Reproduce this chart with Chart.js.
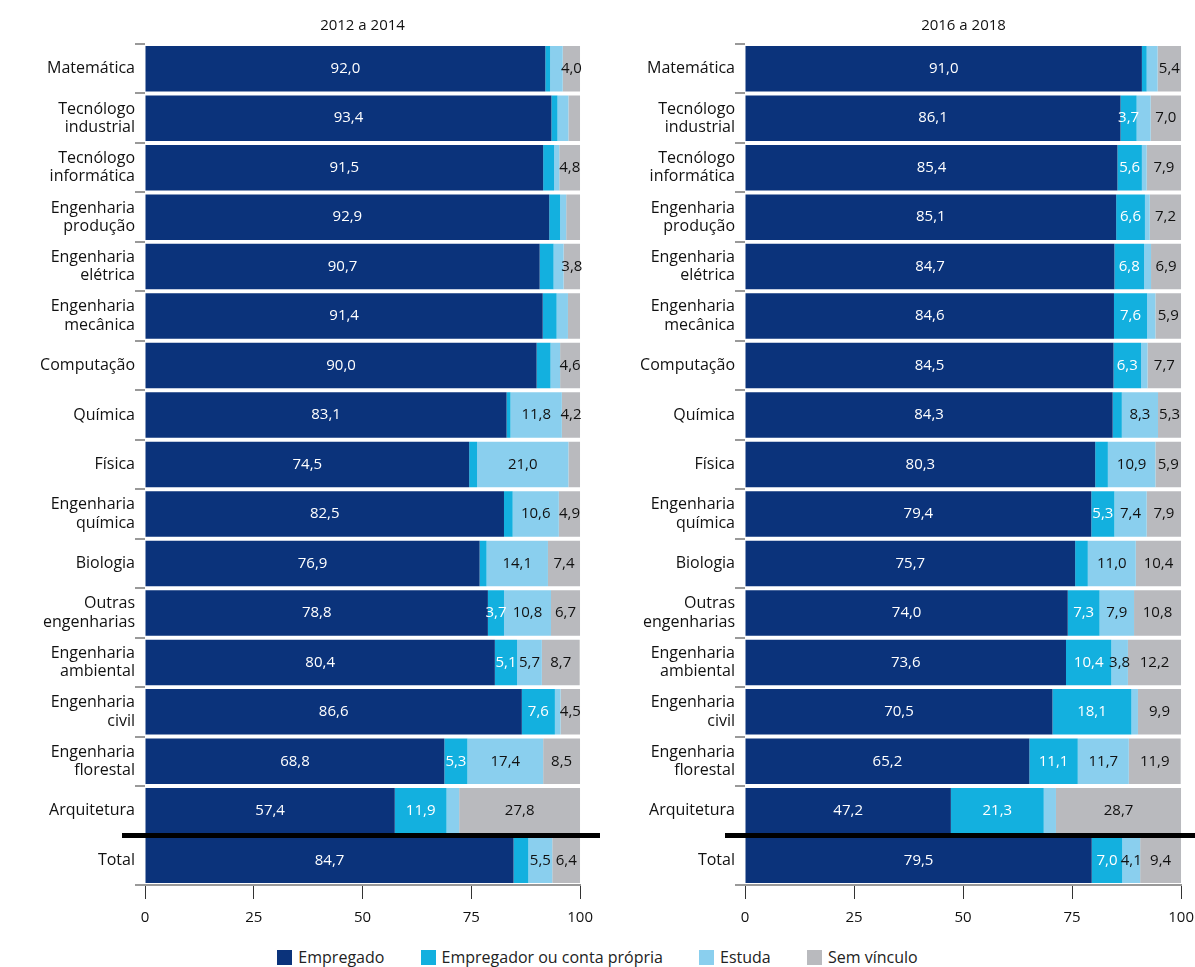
<!DOCTYPE html>
<html><head><meta charset="utf-8">
<script src="https://cdn.jsdelivr.net/npm/chart.js@4"></script>
<style>
body{margin:0;background:#fff;font-family:"Open Sans",sans-serif;overflow:hidden;}
.t{position:absolute;top:14px;font-size:15px;font-weight:500;color:#111;text-align:center;width:435px;}
#leg{position:absolute;left:0;top:946px;width:1195px;text-align:center;font-size:16px;color:#222;font-family:"Open Sans",sans-serif;}
#leg span{display:inline-block;margin:0 16px;}
#leg i{display:inline-block;width:15px;height:15px;vertical-align:-2px;margin-right:6px;}
</style></head><body>
<div id="w1" style="position:absolute;left:0;top:0;width:603px;height:937px"><canvas id="c1"></canvas></div>
<div id="w2" style="position:absolute;left:600px;top:0;width:604px;height:937px"><canvas id="c2"></canvas></div>
<div class="t" style="left:145px">2012 a 2014</div>
<div class="t" style="left:746px">2016 a 2018</div>
<div id="leg">
<span><i style="background:#0b337b"></i>Empregado</span>
<span><i style="background:#13b0df"></i>Empregador ou conta própria</span>
<span><i style="background:#8acfee"></i>Estuda</span>
<span><i style="background:#b9babe"></i>Sem vínculo</span>
</div>
<script>
const categories = [["Matemática"],["Tecnólogo","industrial"],["Tecnólogo","informática"],["Engenharia","produção"],["Engenharia","elétrica"],["Engenharia","mecânica"],["Computação"],["Química"],["Física"],["Engenharia","química"],["Biologia"],["Outras","engenharias"],["Engenharia","ambiental"],["Engenharia","civil"],["Engenharia","florestal"],["Arquitetura"],["Total"]];
const seriesNames = ["Empregado","Empregador ou conta própria","Estuda","Sem vínculo"];
const colors = ["#0b337b","#13b0df","#8acfee","#b9babe"];
const labelColors = ["#fff","#fff","#111","#111"];

const emp1 = [92.0,93.4,91.5,92.9,90.7,91.4,90.0,83.1,74.5,82.5,76.9,78.8,80.4,86.6,68.8,57.4,84.7];
const own1 = [1.1,1.4,2.5,2.5,3.2,3.2,3.2,0.9,1.8,2.0,1.6,3.7,5.1,7.6,5.3,11.9,3.4];
const est1 = [2.9,2.5,1.2,1.4,2.3,2.6,2.2,11.8,21.0,10.6,14.1,10.8,5.7,1.3,17.4,2.9,5.5];
const sem1 = [4.0,2.7,4.8,3.2,3.8,2.8,4.6,4.2,2.7,4.9,7.4,6.7,8.7,4.5,8.5,27.8,6.4];

const emp2 = [91.0,86.1,85.4,85.1,84.7,84.6,84.5,84.3,80.3,79.4,75.7,74.0,73.6,70.5,65.2,47.2,79.5];
const own2 = [1.1,3.7,5.6,6.6,6.8,7.6,6.3,2.1,2.9,5.3,2.9,7.3,10.4,18.1,11.1,21.3,7.0];
const est2 = [2.5,3.2,1.1,1.1,1.6,1.9,1.5,8.3,10.9,7.4,11.0,7.9,3.8,1.5,11.7,2.8,4.1];
const sem2 = [5.4,7.0,7.9,7.2,6.9,5.9,7.7,5.3,5.9,7.9,10.4,10.8,12.2,9.9,11.9,28.7,9.4];

const xTicks = [0,25,50,75,100];
const FONT = "'Open Sans', sans-serif";

const labelPlugin = {
  id:'lbl',
  afterDatasetsDraw(chart){
    const ctx = chart.ctx;
    ctx.save();
    ctx.font = "15px " + FONT;
    ctx.textAlign='center';ctx.textBaseline='middle';
    chart.data.datasets.forEach((ds,di)=>{
      const meta = chart.getDatasetMeta(di);
      meta.data.forEach((bar,i)=>{
        const v = ds.data[i];
        if (v < 3.5) return;
        ctx.fillStyle = labelColors[di];
        ctx.fillText(v.toFixed(1).replace('.',','), (bar.x+bar.base)/2, bar.y);
      });
    });
    const y = chart.scales.y;
    const sy = (y.getPixelForValue(15)+y.getPixelForValue(16))/2;
    ctx.strokeStyle='#000';ctx.lineWidth=5;
    ctx.beginPath();ctx.moveTo(chart.options.sepLeft, sy);ctx.lineTo(chart.options.sepRight, sy);ctx.stroke();
    ctx.restore();
  }
};

function make(id, arrs, padRight, sepLeft, sepRight){
  new Chart(document.getElementById(id), {
    type:'bar',
    data:{labels:categories, datasets: arrs.map((a,i)=>({label:seriesNames[i], data:a, backgroundColor:colors[i], barPercentage:0.92, categoryPercentage:1}))},
    options:{
      indexAxis:'y', responsive:true, maintainAspectRatio:false, animation:false,
      sepLeft, sepRight,
      layout:{padding:{top:44,right:padRight,bottom:0,left:0}},
      plugins:{legend:{display:false},tooltip:{enabled:false},title:{display:false}},
      scales:{
        x:{stacked:true,min:0,max:100,afterBuildTicks(ax){ax.ticks=xTicks.map(v=>({value:v}));},
          grid:{drawOnChartArea:false,tickLength:14,color:'#333'},
          border:{color:'#999',width:2},
          ticks:{color:'#111',font:{family:FONT,size:15},padding:10}},
        y:{stacked:true,afterFit(ax){ax.width=145;},
          grid:{drawOnChartArea:false,offset:true,tickLength:10,color:'#999',lineWidth:2},
          border:{display:false},
          ticks:{color:'#111',font:{family:FONT,size:16,lineHeight:1.15},padding:0}}
      }
    },
    plugins:[labelPlugin]
  });
}
make('c1',[emp1,own1,est1,sem1],17,122,600);
make('c2',[emp2,own2,est2,sem2],5,125,600);
</script></body></html>
